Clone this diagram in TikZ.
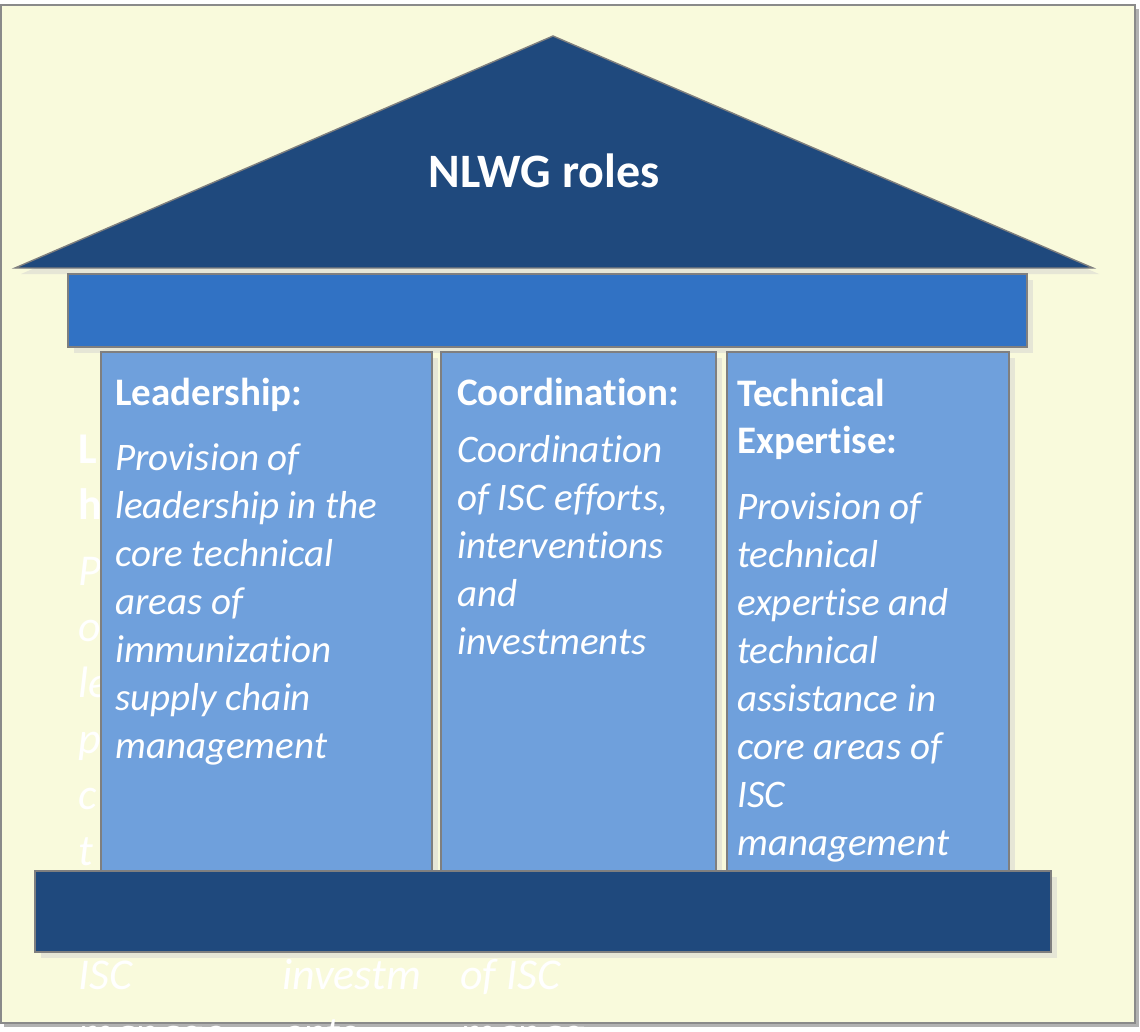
\documentclass[tikz,border=0pt]{standalone}
\usepackage{fontspec}
\setmainfont{Carlito}[Ligatures={NoCommon}]
\definecolor{bgY}{HTML}{F9FADC}
\definecolor{darkB}{HTML}{1F497D}
\definecolor{midB}{HTML}{3172C4}
\definecolor{lightB}{HTML}{6FA0DC}
\definecolor{shadC}{HTML}{E6E6D6}
\definecolor{lineG}{HTML}{7F7F7F}
\definecolor{frameG}{HTML}{8A8A8A}
\begin{document}
\begin{tikzpicture}[x=1pt,y=-1pt,
  part/.style={draw=lineG, line width=1.4pt},
  shad/.style={fill=shadC},
  txt/.style={anchor=base west, inner sep=0pt, text=white, align=left},
  ghost/.style={anchor=base west, inner sep=0pt, text=white},
]
\useasboundingbox (0,0) rectangle (1140,1031);
\clip (0,0) rectangle (1140,1031);
% frame
\fill[gray!60] (4,9) rectangle (1139,1027);
\filldraw[fill=bgY, draw=frameG, line width=2pt] (1,5) rectangle (1135,1023);
% overflowing ghost text
\node[ghost] (g1) at (78,463) {\parbox[t]{400pt}{\fontsize{44}{56}\selectfont\bfseries L\\h\\[10pt]\mdseries\itshape P\\o\\le\\p\\c\\t}};
\node[ghost] (g2) at (78,989) {\parbox[t]{200pt}{\fontsize{44}{58}\selectfont\itshape ISC\\manage}};
\node[ghost] (g3) at (282,989) {\parbox[t]{200pt}{\fontsize{44}{58}\selectfont\itshape investm\\ents}};
\node[ghost] (g4) at (460,989) {\parbox[t]{200pt}{\fontsize{44}{58}\selectfont\itshape of ISC\\manag}};
% roof
\fill[shad] (21,274) -- (559,42) -- (1099,274) -- cycle;
\filldraw[part, fill=darkB] (15,268) -- (553,36) -- (1093,268) -- cycle;
\node[inner sep=0pt, anchor=base, text=white, font=\fontsize{48}{56}\selectfont\bfseries] (roof) at (544,187) {NLWG roles};
% top beam
\fill[shad] (74,280) rectangle (1033,353);
\filldraw[part, fill=midB] (68,274) rectangle (1027,347);
% pillars
\fill[shad] (107,358) rectangle (438,886);
\filldraw[part, fill=lightB] (101,352) rectangle (432,880);
\fill[shad] (447,358) rectangle (722,886);
\filldraw[part, fill=lightB] (441,352) rectangle (716,880);
\fill[shad] (733,358) rectangle (1015,886);
\filldraw[part, fill=lightB] (727,352) rectangle (1009,880);
\node[txt] (p1) at (115,405) {\parbox[t]{320pt}{\raggedright\fontsize{39}{48}\selectfont\bfseries Leadership:\\[17pt]\mdseries\itshape Provision of\\leadership in the\\core technical\\areas of\\immunization\\supply chain\\management}};
\node[txt] (p2) at (457,405) {\parbox[t]{260pt}{\raggedright\fontsize{39}{48}\selectfont\bfseries Coordination:\\[9pt]\mdseries\itshape Coordination\\of ISC efforts,\\interventions\\and\\investments}};
\node[txt] (p3) at (737,406) {\parbox[t]{270pt}{\raggedright\fontsize{39}{47}\selectfont\bfseries Technical\\Expertise:\\[18pt]\fontsize{39}{48}\selectfont\mdseries\itshape Provision of\\technical\\expertise and\\technical\\assistance in\\core areas of\\ISC\\management}};
% base
\fill[shad] (41,877) rectangle (1057,958);
\filldraw[part, fill=darkB] (35,871) rectangle (1051,952);
\end{tikzpicture}
\end{document}
